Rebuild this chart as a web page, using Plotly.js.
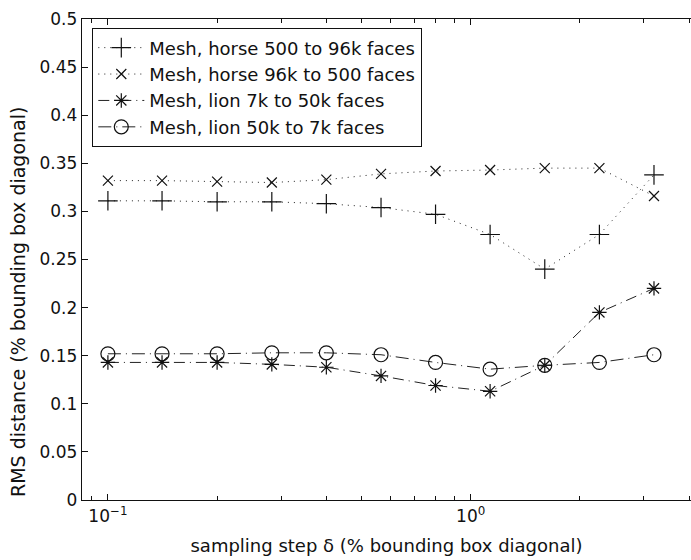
<!DOCTYPE html>
<html>
<head>
<meta charset="utf-8">
<script src="https://cdn.plot.ly/plotly-3.0.1.min.js"></script>
<style>html,body{margin:0;padding:0;background:#fff;overflow:hidden;}#chart{width:691px;height:560px;}</style>
</head>
<body>
<div id="chart"></div>
<script>
const steps = [0.1, 0.141, 0.2, 0.283, 0.4, 0.566, 0.8, 1.131, 1.6, 2.263, 3.2];
const horseUp = [0.311, 0.311, 0.310, 0.310, 0.308, 0.304, 0.297, 0.276, 0.240, 0.276, 0.338];
const horseDown = [0.332, 0.332, 0.331, 0.330, 0.333, 0.339, 0.342, 0.343, 0.345, 0.345, 0.316];
const lionUp = [0.143, 0.143, 0.143, 0.141, 0.138, 0.129, 0.119, 0.113, 0.140, 0.195, 0.220];
const lionDown = [0.152, 0.152, 0.152, 0.153, 0.153, 0.151, 0.143, 0.136, 0.140, 0.143, 0.151];
const seriesNames = ["Mesh, horse 500 to 96k faces", "Mesh, horse 96k to 500 faces", "Mesh, lion 7k to 50k faces", "Mesh, lion 50k to 7k faces"];
const yTicks = [0, 0.05, 0.1, 0.15, 0.2, 0.25, 0.3, 0.35, 0.4, 0.45, 0.5];
const yTickText = ["0", "0.05", "0.1", "0.15", "0.2", "0.25", "0.3", "0.35", "0.4", "0.45", "0.5"];
const xTicks = [0.1, 1];
const xTickText = ["10<sup>−1</sup>", "10<sup>0</sup>"];
const xMinor = [0.09, 0.2, 0.3, 0.4, 0.5, 0.6, 0.7, 0.8, 0.9, 2, 3, 4];
const xTitle = 'sampling step δ (% bounding box diagonal)';
const yTitle = 'RMS distance (% bounding box diagonal)';

const mk = (y, name, symbol, size, dash) => ({
  x: steps, y: y, name: name, type: 'scatter', mode: 'lines+markers',
  line: {color: '#222', width: 1, dash: dash},
  marker: {symbol: symbol, size: size, color: '#111', line: {color: '#111', width: 1.2}}
});

const data = [
  mk(horseUp, seriesNames[0], 'cross-thin-open', 14, '1px,5px'),
  mk(horseDown, seriesNames[1], 'x-thin-open', 10, '1px,5px'),
  mk(lionUp, seriesNames[2], 'asterisk-open', 12, '11px,5px,1px,5px'),
  mk(lionDown, seriesNames[3], 'circle-open', 14, '13px,5px,1px,5px')
];

const font = {family: 'DejaVu Sans, sans-serif', color: '#111'};
const W = 691, plotLeft = 82, plotW = W - plotLeft;
const layout = {
  width: W, height: 560,
  margin: {l: plotLeft, r: 0, t: 19, b: 60},
  paper_bgcolor: '#fff', plot_bgcolor: '#fff',
  font: Object.assign({size: 17}, font),
  showlegend: true,
  legend: {
    x: 10 / plotW, y: 0.981, xanchor: 'left', yanchor: 'top',
    bgcolor: '#fff', bordercolor: '#111', borderwidth: 1.3,
    font: Object.assign({size: 18}, font),
    itemwidth: 46, tracegroupgap: 0
  },
  xaxis: {
    type: 'log', range: [-1.0714, -1.0714 + (plotW + 2) / 364],
    tickvals: xTicks, ticktext: xTickText,
    ticks: 'inside', ticklen: 6, tickcolor: '#111', tickwidth: 1,
    minor: {tickvals: xMinor, ticks: 'inside', ticklen: 4, tickcolor: '#111', tickwidth: 1},
    showline: true, linecolor: '#111', linewidth: 1.3, mirror: 'ticks',
    showgrid: false, zeroline: false,
    tickfont: Object.assign({size: 17}, font),
    title: {text: xTitle, font: Object.assign({size: 18}, font), standoff: 14}
  },
  yaxis: {
    range: [0, 0.5],
    tickvals: yTicks, ticktext: yTickText,
    ticks: 'inside', ticklen: 6, tickcolor: '#111', tickwidth: 1,
    showline: true, linecolor: '#111', linewidth: 1.3, mirror: false,
    showgrid: false, zeroline: false,
    tickfont: Object.assign({size: 17}, font)
  },
  yaxis2: {
    overlaying: 'y', side: 'right', range: [0, 0.5],
    tickvals: yTicks, showticklabels: false,
    ticks: 'inside', ticklen: 5, tickcolor: '#111', tickwidth: 1,
    showline: false, showgrid: false, zeroline: false
  },
  annotations: [{
    text: yTitle, textangle: -90, showarrow: false,
    xref: 'paper', yref: 'paper', x: (18 - plotLeft) / plotW, y: 198 / 481,
    xanchor: 'center', yanchor: 'middle',
    font: Object.assign({size: 19}, font)
  }]
};

Plotly.newPlot('chart', data, layout, {displayModeBar: false, staticPlot: true});
</script>
</body>
</html>
